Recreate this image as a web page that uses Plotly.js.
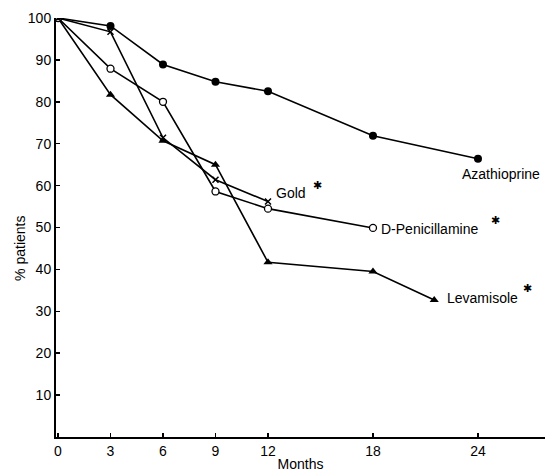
<!DOCTYPE html>
<html><head><meta charset="utf-8">
<script src="https://cdn.plot.ly/plotly-3.0.1.min.js"></script>
<style>html,body{margin:0;padding:0;background:#fff}</style>
</head><body><div id="chart" style="width:545px;height:472px"></div>
<script>
const azaMonths = [0, 3, 6, 9, 12, 18, 24];
const azaValues = [100, 98.1, 88.9, 84.8, 82.5, 71.9, 66.4];
const levMonths = [0, 3, 6, 9, 12, 18, 21.5];
const levValues = [100, 81.7, 70.7, 65.0, 41.7, 39.5, 32.7];
const penMonths = [0, 3, 6, 9, 12, 18];
const penValues = [100, 87.9, 80.0, 58.6, 54.5, 49.9];
const goldMonths = [0, 3, 6, 9, 12];
const goldValues = [100, 96.7, 71.4, 61.4, 56.2];
const xTicks = [0, 3, 6, 9, 12, 18, 24];
const yTicks = [10, 20, 30, 40, 50, 60, 70, 80, 90, 100];

const font = "Liberation Sans, Arial, sans-serif";
const line = {color: "#000", width: 1.6};
const traces = [
  {x: azaMonths, y: azaValues, mode: "lines+markers", line: line,
   marker: {symbol: "circle", size: 8, color: "#000"}, name: "Azathioprine"},
  {x: levMonths, y: levValues, mode: "lines+markers", line: line,
   marker: {symbol: "triangle-up", size: 8, color: "#000"}, name: "Levamisole"},
  {x: penMonths, y: penValues, mode: "lines+markers", line: line,
   marker: {symbol: "circle", size: 7, color: "#fff", line: {color: "#000", width: 1.3}}, name: "D-Penicillamine"},
  {x: goldMonths, y: goldValues, mode: "lines+markers", line: line,
   marker: {symbol: "x-thin", size: 6, color: "#000", line: {color: "#000", width: 1.5}}, name: "Gold"}
];
const ann = (x, y, text, size, anchor, angle) => ({xref: "paper", yref: "paper", x: x, y: y, text: text,
  showarrow: false, xanchor: anchor || "left", yanchor: "middle", textangle: angle || 0, borderpad: 0,
  font: {family: font, size: size, color: "#000"}});
const layout = {
  width: 545, height: 472,
  margin: {l: 56, r: 0, t: 18, b: 35},
  paper_bgcolor: "#fff", plot_bgcolor: "#fff",
  showlegend: false,
  font: {family: font, size: 14, color: "#000"},
  xaxis: {range: [-0.114, 27.83], tickvals: xTicks, ticktext: xTicks.map(String),
    ticks: "inside", ticklen: 4, tickwidth: 1.5, tickcolor: "#000",
    showline: true, linecolor: "#000", linewidth: 2, showgrid: false, zeroline: false,
    tickfont: {size: 14}, title: {text: "Months", font: {size: 14}, standoff: 4}},
  yaxis: {range: [0, 100], tickvals: yTicks, ticktext: yTicks.map(String),
    ticks: "inside", ticklen: 4, tickwidth: 1.5, tickcolor: "#000",
    showline: true, linecolor: "#000", linewidth: 2, showgrid: false, zeroline: false,
    tickfont: {size: 14}},
  annotations: [
    ann(-0.0736, 0.449, "% patients", 14, "center", -90),
    ann(0.910, 0.628, "Azathioprine", 14, "center"),
    ann(0.448, 0.582, "Gold", 14),
    ann(0.534, 0.601, "✱", 11, "center"),
    ann(0.663, 0.496, "D-Penicillamine", 14),
    ann(0.898, 0.518, "✱", 11, "center"),
    ann(0.798, 0.332, "Levamisole", 14),
    ann(0.965, 0.356, "✱", 11, "center")
  ]
};
Plotly.newPlot("chart", traces, layout, {displayModeBar: false, staticPlot: true});
</script></body></html>
